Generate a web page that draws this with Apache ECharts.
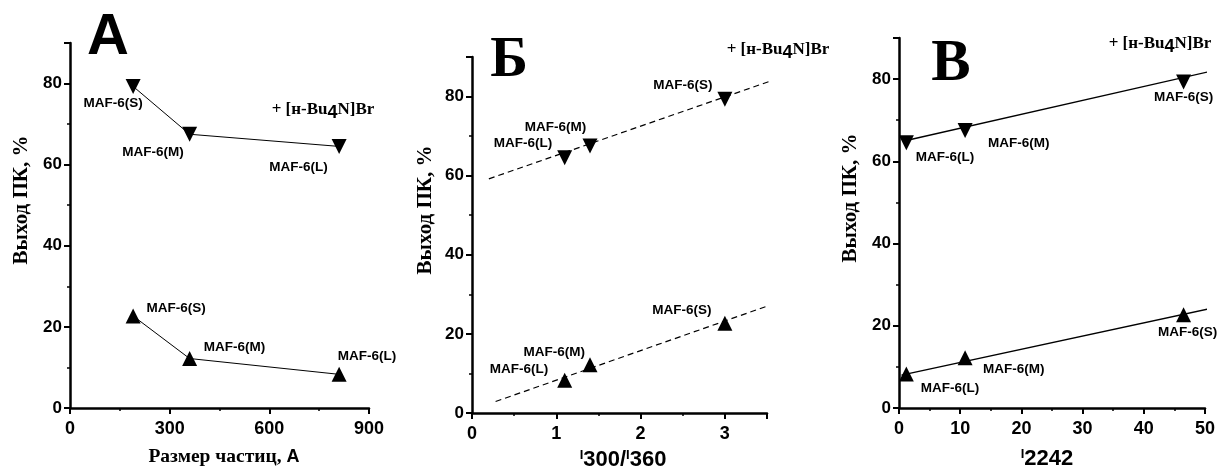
<!DOCTYPE html>
<html>
<head>
<meta charset="utf-8">
<script src="https://cdn.jsdelivr.net/npm/echarts@6/dist/echarts.min.js"></script>
<style>html,body{margin:0;padding:0;background:#fff}#c{width:1219px;height:470px}</style>
</head>
<body>
<div id="c"></div>
<script>
// ---- data ----
const sampleNames = ['MAF-6(S)', 'MAF-6(M)', 'MAF-6(L)'];
const particleSizeA = [190, 360, 810];       // panel A x
const ratioB = [3.0, 1.4, 1.1];              // panel Б x  (I300/I360)
const intensityC = [46.5, 10.8, 1.2];        // panel В x  (I2242)
const yieldWithSalt = [79.3, 67.5, 64.5];    // + [н-Bu4N]Br
const yieldWithout = [22.7, 12.2, 8.3];
// fitted lines (endpoints)
const fitBUpper = [[0.2, 59.2], [3.58, 84.2]];
const fitBLower = [[0.28, 2.9], [3.58, 27.6]];
const fitCUpper = [[1.0, 65.0], [51.2, 82.0]];
const fitCLower = [[0.4, 8.0], [51.2, 24.3]];
// axis ticks
const yTicks = {min: 0, max: 90, interval: 20, minor: 10};
const xTicksA = {min: 0, max: 900, interval: 300, minor: 150};
const xTicksB = {min: 0, max: 3.5, interval: 1, minor: 0.5};
const xTicksC = {min: 0, max: 50, interval: 10, minor: 5};

// ---- styles / layout ----
const SANS = 'Liberation Sans, Arial, sans-serif';
const SERIF = 'Liberation Serif, Times New Roman, serif';
const grids = [
  {left: 70, top: 43, width: 299, height: 365},
  {left: 472, top: 57, width: 295, height: 356},
  {left: 899, top: 38, width: 306, height: 370}
];
const labelOffsets = {
  AU: [[-20, 17], [-36.5, 18.4], [-40.5, 21]],
  AL: [[43, -7.3], [45, -11.7], [28, -18]],
  BU: [[-42, -13.7], [-34.5, -19], [-41.7, -14.3]],
  BL: [[-43, -12.7], [-35.8, -12.8], [-45.8, -11.2]],
  CU: [[0, 15], [53.7, 13.2], [38.7, 14.3]],
  CL: [[4, 17.7], [48.6, 11.2], [43.7, 14.4]]
};

function mainAxis(t, gi, isX, labelSize) {
  return {
    type: 'value', gridIndex: gi, min: t.min, max: t.max, interval: t.interval,
    position: isX ? 'bottom' : 'left',
    axisLine: {show: true, onZero: false, lineStyle: {color: '#000', width: 2.5}},
    axisTick: {show: true, inside: false, length: 6, lineStyle: {color: '#000', width: 2}},
    axisLabel: {
      show: true, color: '#000', fontFamily: SANS, fontWeight: 'bold', fontSize: labelSize,
      margin: isX ? 12 : 8,
      formatter: v => (Math.abs(v / t.interval - Math.round(v / t.interval)) < 1e-6 ? String(Math.round(v*1000)/1000) : '')
    },
    splitLine: {show: false}
  };
}
function minorAxis(t, gi, isX) {
  return {
    type: 'value', gridIndex: gi, min: t.min, max: t.max, interval: t.minor,
    position: isX ? 'bottom' : 'left',
    axisLine: {show: false, onZero: false},
    axisTick: {show: true, inside: false, length: 3, lineStyle: {color: '#000', width: 1.5}},
    axisLabel: {show: false},
    splitLine: {show: false}
  };
}

const xAxes = [], yAxes = [];
[xTicksA, xTicksB, xTicksC].forEach((t, gi) => {
  xAxes.push(mainAxis(t, gi, true, 18));
  yAxes.push(mainAxis(yTicks, gi, false, 17));
});
[xTicksA, xTicksB, xTicksC].forEach((t, gi) => {
  xAxes.push(minorAxis(t, gi, true));
  yAxes.push(minorAxis(yTicks, gi, false));
});

function pts(xs, ys, offs) {
  return xs.map((x, i) => ({
    value: [x, ys[i]],
    label: {offset: offs[i], formatter: sampleNames[i]}
  }));
}
const labelStyle = {show: true, position: 'inside', color: '#000', opacity: 1, fontFamily: SANS, fontWeight: 'bold', fontSize: 13.5};
function markSeries(type, gi, xs, ys, offs, down) {
  return {
    type: type, xAxisIndex: gi, yAxisIndex: gi,
    data: pts(xs, ys, offs),
    symbol: 'triangle', symbolSize: 15, symbolRotate: down ? 180 : 0,
    showSymbol: true,
    itemStyle: {color: '#000', opacity: 1},
    lineStyle: {color: '#000', width: 1},
    label: labelStyle,
    emphasis: {disabled: true},
    z: 5, animation: false, silent: true
  };
}
function fitSeries(gi, data, dashed) {
  return {
    type: 'line', xAxisIndex: gi, yAxisIndex: gi, data: data, showSymbol: false, symbol: 'none',
    clip: false,
    lineStyle: {color: '#000', width: dashed ? 1.2 : 1.4, type: dashed ? [6, 4] : 'solid'},
    z: 3, animation: false, silent: true
  };
}

const series = [
  markSeries('line', 0, particleSizeA, yieldWithSalt, labelOffsets.AU, true),
  markSeries('line', 0, particleSizeA, yieldWithout, labelOffsets.AL, false),
  fitSeries(1, fitBUpper, true),
  fitSeries(1, fitBLower, true),
  markSeries('scatter', 1, ratioB, yieldWithSalt, labelOffsets.BU, true),
  markSeries('scatter', 1, ratioB, yieldWithout, labelOffsets.BL, false),
  fitSeries(2, fitCUpper, false),
  fitSeries(2, fitCLower, false),
  markSeries('scatter', 2, intensityC, yieldWithSalt, labelOffsets.CU, true),
  markSeries('scatter', 2, intensityC, yieldWithout, labelOffsets.CL, false)
];

const saltRich = {
  t: {fontFamily: SERIF, fontWeight: 'bold', fontSize: 17, color: '#000', verticalAlign: 'bottom', padding: [0, 0, 4, 0]},
  s: {fontFamily: SANS, fontWeight: 'bold', fontSize: 18, color: '#000', verticalAlign: 'bottom'}
};
const saltText = '{t|+ [н-Bu}{s|4}{t|N]Br}';
function saltLabel(x, y) {
  return {type: 'text', x: x, y: y, style: {text: saltText, rich: saltRich, align: 'center', verticalAlign: 'middle'}};
}
function yName(x, y) {
  return {type: 'text', x: x, y: y, rotation: Math.PI / 2,
    style: {text: 'Выход ПК, %', fontFamily: SERIF, fontWeight: 'bold', fontSize: 21, fill: '#000', align: 'center', verticalAlign: 'middle'}};
}
const iRich = {
  i: {fontFamily: SANS, fontWeight: 'bold', fontSize: 13, color: '#000', verticalAlign: 'top'},
  n: {fontFamily: SANS, fontWeight: 'bold', fontSize: 22, color: '#000', verticalAlign: 'top'}
};

const graphic = [
  {type: 'text', x: 108, y: 38, style: {text: 'A', fontFamily: SANS, fontWeight: 'bold', fontSize: 58, fill: '#000', align: 'center', verticalAlign: 'middle'}},
  {type: 'text', x: 509, y: 61, style: {text: 'Б', fontFamily: SERIF, fontWeight: 'bold', fontSize: 57, fill: '#000', align: 'center', verticalAlign: 'middle'}},
  {type: 'text', x: 951, y: 65, style: {text: 'В', fontFamily: SERIF, fontWeight: 'bold', fontSize: 59, fill: '#000', align: 'center', verticalAlign: 'middle'}},
  saltLabel(323, 112), saltLabel(778, 52), saltLabel(1160, 46),
  yName(22, 200), yName(426, 210), yName(851, 198),
  {type: 'text', x: 224, y: 457, style: {text: '{t|Размер частиц, }{s|A}', rich: {
      t: {fontFamily: SERIF, fontWeight: 'bold', fontSize: 19.5, color: '#000'},
      s: {fontFamily: SANS, fontWeight: 'bold', fontSize: 18, color: '#000'}}, align: 'center', verticalAlign: 'middle'}},
  {type: 'text', x: 623, y: 460, style: {text: '{i|I}{n|300/}{i|I}{n|360}', rich: iRich, align: 'center', verticalAlign: 'middle'}},
  {type: 'text', x: 1047, y: 459, style: {text: '{i|I}{n|2242}', rich: iRich, align: 'center', verticalAlign: 'middle'}}
];

const chart = echarts.init(document.getElementById('c'), null, {renderer: 'canvas'});
chart.setOption({
  backgroundColor: '#fff',
  animation: false,
  grid: grids.map(g => Object.assign({containLabel: false}, g)),
  xAxis: xAxes,
  yAxis: yAxes,
  series: series,
  graphic: graphic
});
</script>
</body>
</html>
